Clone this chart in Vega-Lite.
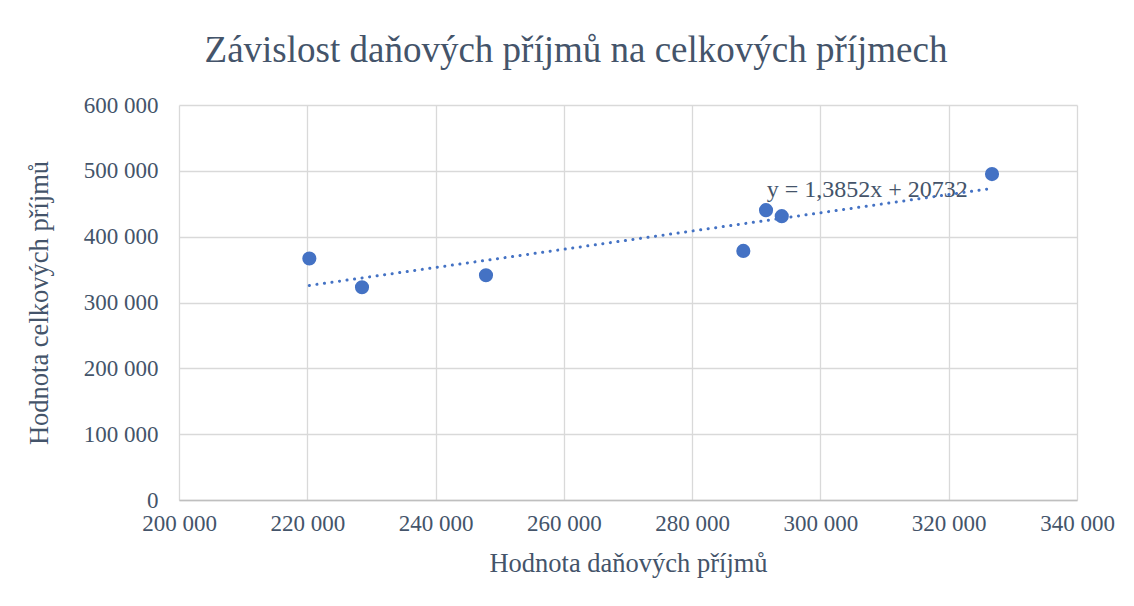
{
  "$schema": "https://vega.github.io/schema/vega-lite/v6.json",
  "autosize": {"type": "none"},
  "width": 898,
  "height": 395,
  "padding": {"left": 179, "top": 105, "right": 57, "bottom": 106},
  "background": "white",
  "config": {
    "font": "Liberation Serif",
    "view": {"stroke": null},
    "locale": {"number": {"decimal": ",", "thousands": " ", "grouping": [3], "currency": ["", " Kč"]}}
  },
  "title": {
    "text": "Závislost daňových příjmů na celkových příjmech",
    "font": "Liberation Serif",
    "fontSize": 37,
    "fontWeight": "normal",
    "color": "#44546A",
    "anchor": "middle",
    "frame": "group",
    "dx": -52,
    "baseline": "alphabetic",
    "offset": -5
  },
  "datasets": {
    "points": [
      {"dane": 220320, "celkem": 366800},
      {"dane": 228530, "celkem": 323200},
      {"dane": 247860, "celkem": 341400},
      {"dane": 287980, "celkem": 378400},
      {"dane": 291520, "celkem": 440300},
      {"dane": 293970, "celkem": 431200},
      {"dane": 326750, "celkem": 495100}
    ],
    "trend": [
      {"dane": 220320, "celkem": 325925},
      {"dane": 326750, "celkem": 473343}
    ],
    "label": [
      {"dane": 291630, "celkem": 470700, "text": "y = 1,3852x + 20732"}
    ]
  },
  "layer": [
    {
      "data": {"name": "points"},
      "mark": {"type": "circle", "size": 200, "opacity": 1, "color": "#4472C4"},
      "encoding": {
        "x": {
          "field": "dane", "type": "quantitative",
          "scale": {"domain": [200000, 340000], "nice": false, "zero": false},
          "axis": {
            "title": "Hodnota daňových příjmů",
            "values": [200000, 220000, 240000, 260000, 280000, 300000, 320000, 340000],
            "format": ",d",
            "labelFont": "Liberation Serif", "labelFontSize": 23, "labelColor": "#44546A",
            "labelPadding": 12, "ticks": false,
            "labelOverlap": false, "labelFlush": false,
            "titleFont": "Liberation Serif", "titleFontSize": 26.5, "titleFontWeight": "normal", "titleColor": "#44546A",
            "titlePadding": 15,
            "grid": true, "gridColor": "#D9D9D9", "gridWidth": 1.3,
            "domain": true, "domainColor": "#BFBFBF", "domainWidth": 1.5
          }
        },
        "y": {
          "field": "celkem", "type": "quantitative",
          "scale": {"domain": [0, 600000], "nice": false},
          "axis": {
            "title": "Hodnota celkových příjmů",
            "values": [0, 100000, 200000, 300000, 400000, 500000, 600000],
            "format": ",d",
            "labelFont": "Liberation Serif", "labelFontSize": 23, "labelColor": "#44546A",
            "labelPadding": 21, "ticks": false, "labelOverlap": false, "labelFlush": false,
            "titleFont": "Liberation Serif", "titleFontSize": 26.5, "titleFontWeight": "normal", "titleColor": "#44546A",
            "titlePadding": 30,
            "grid": true, "gridColor": "#D9D9D9", "gridWidth": 1.3,
            "domain": false
          }
        }
      }
    },
    {
      "data": {"name": "trend"},
      "mark": {"type": "line", "color": "#4472C4", "strokeWidth": 3, "strokeDash": [0.1, 7.5], "strokeCap": "round"},
      "encoding": {
        "x": {"field": "dane", "type": "quantitative"},
        "y": {"field": "celkem", "type": "quantitative"}
      }
    },
    {
      "data": {"name": "label"},
      "mark": {"type": "text", "align": "left", "baseline": "middle", "font": "Liberation Serif", "fontSize": 24, "color": "#44546A"},
      "encoding": {
        "x": {"field": "dane", "type": "quantitative"},
        "y": {"field": "celkem", "type": "quantitative"},
        "text": {"field": "text"}
      }
    }
  ]
}
